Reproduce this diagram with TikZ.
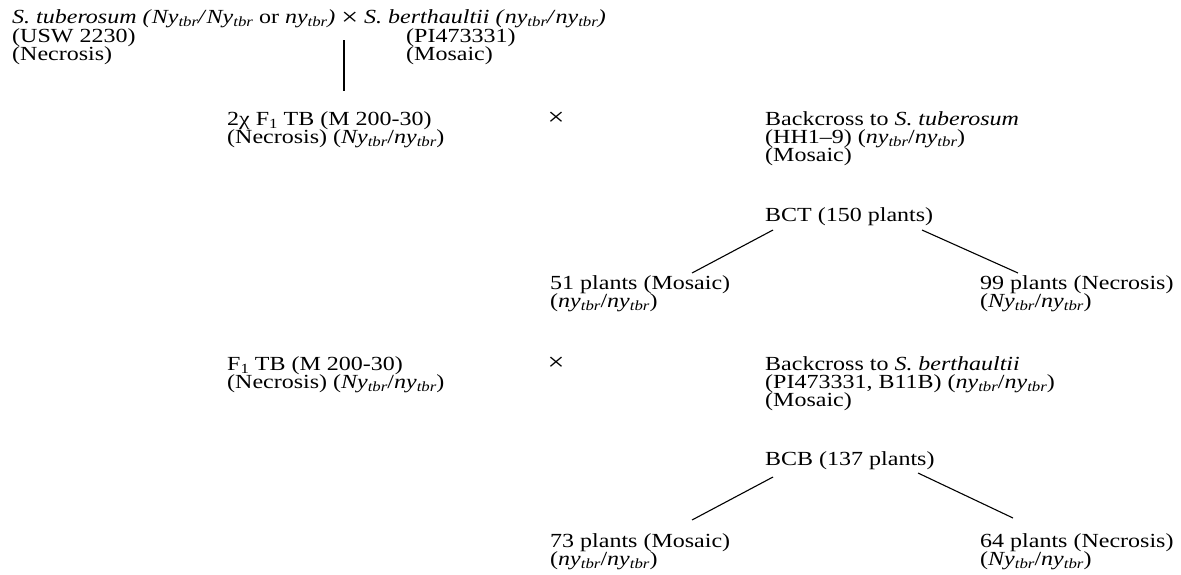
\documentclass[tikz,border=0pt]{standalone}
\usepackage{fontspec}
\setmainfont{Liberation Serif}[FakeStretch=1.2]
\newcommand{\lowsub}[1]{\raisebox{-3.5pt}{\fontsize{14}{14}\selectfont #1}}
\newcommand{\gtbr}[1]{\textit{#1y}\lowsub{\textit{tbr}}}
\newcommand{\bigx}{{\fontsize{25}{18}\selectfont ×}}
\tikzset{
  lbl/.style={anchor=base west, inner sep=0pt, font=\fontsize{20}{18}\selectfont},
  crosslbl/.style={lbl, anchor=base},
  link/.style={line width=1.1pt}
}
\begin{document}
\begin{tikzpicture}[x=1pt,y=-1pt]
\useasboundingbox (0,0) rectangle (1181,574);
% Parents
\node[lbl] (a1) at (12,23) {\textit{S. tuberosum (}\gtbr{N}\textit{/}\gtbr{N} or \gtbr{n}\textit{)} \raisebox{-2pt}{\bigx} \textit{S. berthaultii (}\gtbr{n}\textit{/}\gtbr{n}\textit{)}};
\node[lbl] (a2) at (12,42) {(USW 2230)};
\node[lbl] (a3) at (12,60) {(Necrosis)};
\node[lbl] (a4) at (406,42) {(PI473331)};
\node[lbl] (a5) at (406,60) {(Mosaic)};
\coordinate (v1) at (344,40);
\coordinate (v2) at (344,91);
\draw[link] (v1) -- (v2);
% First backcross
\node[lbl] (b1) at (227,125) {2χ F\lowsub{1} TB (M 200-30)};
\node[lbl] (b2) at (227,143) {(Necrosis) (\gtbr{N}/\gtbr{n})};
\node[crosslbl] (bx) at (556,125) {\bigx};
\node[lbl] (b3) at (765,125) {Backcross to \textit{S. tuberosum}};
\node[lbl] (b4) at (765,143) {(HH1–9) (\gtbr{n}/\gtbr{n})};
\node[lbl] (b5) at (765,161) {(Mosaic)};
% BCT
\node[lbl] (c0) at (765,221) {BCT (150 plants)};
\node[lbl] (c1) at (550,289) {51 plants (Mosaic)};
\node[lbl] (c2) at (550,307) {(\gtbr{n}/\gtbr{n})};
\node[lbl] (c3) at (980,289) {99 plants (Necrosis)};
\node[lbl] (c4) at (980,307) {(\gtbr{N}/\gtbr{n})};
\coordinate (cl1) at (773,230);
\coordinate (cl2) at (692,273);
\coordinate (cr1) at (922,230);
\coordinate (cr2) at (1018,273);
\draw[link] (cl1) -- (cl2);
\draw[link] (cr1) -- (cr2);
% Second backcross
\node[lbl] (d1) at (227,370) {F\lowsub{1} TB (M 200-30)};
\node[lbl] (d2) at (227,388) {(Necrosis) (\gtbr{N}/\gtbr{n})};
\node[crosslbl] (dx) at (556,370) {\bigx};
\node[lbl] (d3) at (765,370) {Backcross to \textit{S. berthaultii}};
\node[lbl] (d4) at (765,388) {(PI473331, B11B) (\gtbr{n}/\gtbr{n})};
\node[lbl] (d5) at (765,406) {(Mosaic)};
% BCB
\node[lbl] (e0) at (765,465) {BCB (137 plants)};
\node[lbl] (e1) at (550,547) {73 plants (Mosaic)};
\node[lbl] (e2) at (550,565) {(\gtbr{n}/\gtbr{n})};
\node[lbl] (e3) at (980,547) {64 plants (Necrosis)};
\node[lbl] (e4) at (980,565) {(\gtbr{N}/\gtbr{n})};
\coordinate (el1) at (773,477);
\coordinate (el2) at (692,520);
\coordinate (er1) at (918,473);
\coordinate (er2) at (1013,518);
\draw[link] (el1) -- (el2);
\draw[link] (er1) -- (er2);
\end{tikzpicture}
\end{document}
